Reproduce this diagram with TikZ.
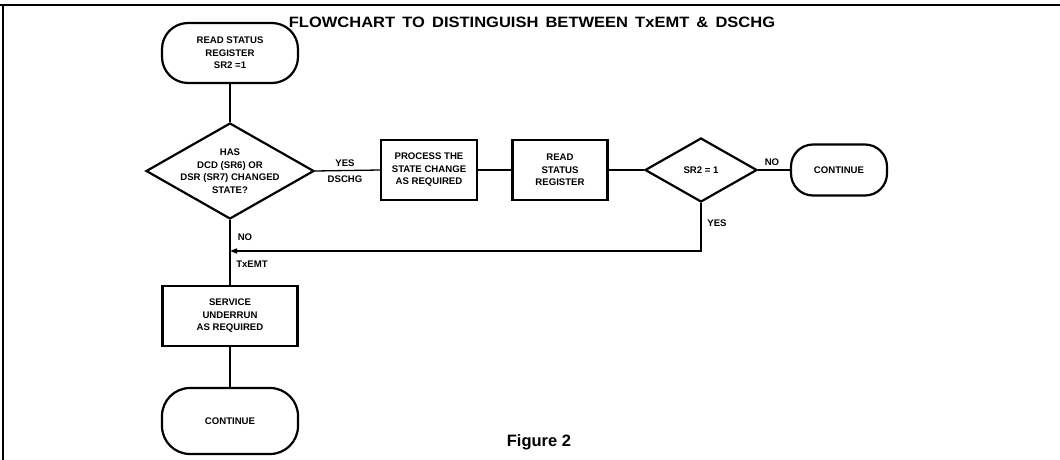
\documentclass[tikz,border=0pt]{standalone}
\usepackage{fontspec}
\setmainfont{Liberation Sans}
\usetikzlibrary{shapes.geometric,arrows.meta}
\begin{document}
\begin{tikzpicture}[x=1pt,y=-1pt,
  txt/.style={font=\fontsize{9.6}{12.5}\selectfont\bfseries, align=center, inner sep=0pt},
  lab/.style={font=\fontsize{9.6}{12}\selectfont\bfseries, inner sep=0pt},
  term/.style={draw, line width=2.2pt, rounded corners=26pt, inner sep=0pt, txt},
  procbox/.style={draw, line width=2.2pt, inner sep=0pt, txt},
  dia/.style={draw, shape=diamond, line width=2.2pt, inner sep=0pt},
  conn/.style={line width=1.3pt},
  tip/.style={-{Triangle[length=7pt,width=5pt]}}
]
\useasboundingbox (0,0) rectangle (1060,460);
% frame
\draw[line width=2pt] (0,5) -- (1060,5);
\draw[line width=1.3pt] (3,5) -- (3,460);

\node[font=\fontsize{15}{15}\selectfont\bfseries, inner sep=0pt] (title) at (532,22) {\scalebox{1.1}[1]{\spaceskip=6.5pt\relax FLOWCHART TO DISTINGUISH BETWEEN TxEMT \& DSCHG}};

\node[term, minimum width=136pt, minimum height=60pt] (t1) at (230,53) {READ STATUS\\REGISTER\\SR2 =1};

\node[dia, minimum width=168pt, minimum height=96pt] (d1) at (230,171) {};
\node[txt] (d1t) at (230,171) {HAS\\DCD (SR6) OR\\DSR (SR7) CHANGED\\STATE?};

\node[procbox, minimum width=96pt, minimum height=60pt] (b1) at (429,170) {PROCESS THE\\STATE CHANGE\\AS REQUIRED};
\node[procbox, minimum width=95pt, minimum height=60pt] (b2) at (560,170) {READ\\STATUS\\REGISTER};

\node[dia, minimum width=112pt, minimum height=64pt] (d2) at (701,170) {};
\node[txt] (d2t) at (701,170) {SR2 = 1};

\node[term, rounded corners=22pt, minimum width=96pt, minimum height=51pt] (t2) at (839,170) {CONTINUE};

\node[procbox, minimum width=135pt, minimum height=60pt] (b3) at (230,316) {SERVICE\\UNDERRUN\\AS REQUIRED};

\node[term, rounded corners=28pt, minimum width=136pt, minimum height=66pt] (t3) at (230,421) {CONTINUE};

\coordinate (j) at (230,251);

% connectors
\draw[conn] (t1.south) -- (d1.north);
\draw[conn] (d1.east) -- (b1.west);
\draw[conn] (b1.east) -- (b2.west);
\draw[conn] (b2.east) -- (d2.west);
\draw[conn] (d2.east) -- (t2.west);
\draw[conn] (d1.south) -- (b3.north);
\draw[conn] (b3.south) -- (t3.north);
\draw[conn,tip] (d2.south) |- (j);

% labels
\node[lab] (y1) at (345,163) {YES};
\node[lab] (ds) at (345,179) {DSCHG};
\node[lab] (n1) at (245,237) {NO};
\node[lab] (tx) at (252,264) {TxEMT};
\node[lab] (n2) at (772,162) {NO};
\node[lab] (y2) at (717,223) {YES};

\node[font=\fontsize{16.5}{16.5}\selectfont\bfseries, inner sep=0pt] (fig) at (539,442) {Figure 2};
\end{tikzpicture}
\end{document}
